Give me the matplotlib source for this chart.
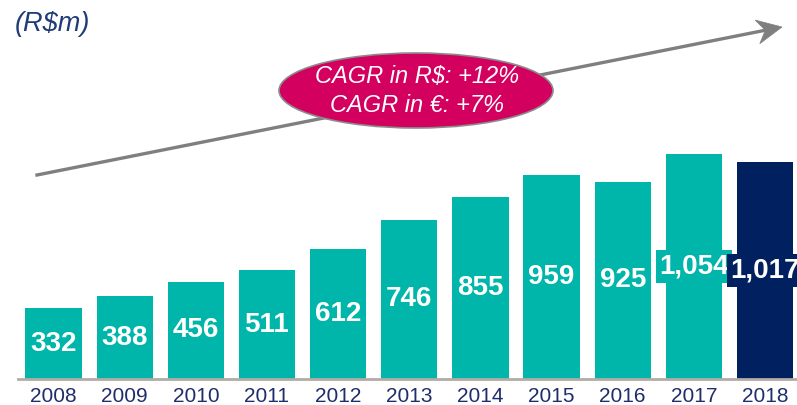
import matplotlib
matplotlib.use("Agg")
import matplotlib.pyplot as plt
from matplotlib.patches import Ellipse, Polygon
from matplotlib.lines import Line2D

plt.rcParams['font.family'] = ['Liberation Sans', 'DejaVu Sans']

years = ['2008', '2009', '2010', '2011', '2012', '2013', '2014', '2015', '2016', '2017', '2018']
values = [332, 388, 456, 511, 612, 746, 855, 959, 925, 1054, 1017]
labels = ['332', '388', '456', '511', '612', '746', '855', '959', '925', '1,054', '1,017']
title = '(R$m)'
cagr_text = 'CAGR in R$: +12%\nCAGR in €: +7%'

TEAL = '#00B5AA'
NAVY = '#002060'
colors = [TEAL] * 10 + [NAVY]

W, H = 797, 405
fig = plt.figure(figsize=(W / 100, H / 100), dpi=100)
ax = fig.add_axes([18 / W, (H - 379) / H, (W - 18) / W, 379 / H])

x = list(range(len(years)))
bars = ax.bar(x, values, width=0.79, color=colors, zorder=2)
ax.set_xlim(-0.5, 10.45)
ax.set_ylim(0, 379 / 0.2132)

for xi, v, lab, c in zip(x, values, labels, colors):
    ax.text(xi, v / 2, lab, ha='center', va='center', color='white',
            fontsize=20, fontweight='bold', zorder=3,
            bbox=dict(boxstyle='square,pad=0.12', facecolor=c, edgecolor='none'))

ax.set_xticks(x)
ax.set_xticklabels(years, fontsize=15, color='#1F2D6B')
ax.tick_params(axis='x', length=0, pad=5.5)
ax.set_yticks([])
for s in ['top', 'right', 'left']:
    ax.spines[s].set_visible(False)
ax.spines['bottom'].set_color('#B3ABA5')
ax.spines['bottom'].set_linewidth(2)
ax.patch.set_alpha(0)

def fp(px, py):
    return (px / W, 1 - py / H)

# trend arrow (decoration, figure pixel coordinates)
ARROW = '#7F7F7F'
p0, p1 = fp(37, 175), fp(765, 30.3)
fig.lines.append(Line2D([p0[0], p1[0]], [p0[1], p1[1]], transform=fig.transFigure,
                        color=ARROW, linewidth=2.4, zorder=1))
head = Polygon([fp(782, 27), fp(755.2, 20.1), fp(765.3, 30.3), fp(759.8, 43.7)],
               closed=True, transform=fig.transFigure, facecolor=ARROW,
               edgecolor=ARROW, linewidth=0.5, zorder=1)
fig.patches.append(head)

ell = Ellipse(fp(416, 90.5), 274 / W, 75 / H, transform=fig.transFigure,
              facecolor='#D4005F', edgecolor='#8C8C8C', linewidth=1.2, zorder=5)
fig.patches.append(ell)

fig.text(417 / W, 1 - 91 / H, cagr_text, ha='center', va='center', color='white',
         fontsize=17, style='italic', linespacing=1.35, zorder=6)

fig.text(15 / W, 1 - 24 / H, title, ha='left', va='center', color='#1F3C78',
         fontsize=19.5, style='italic')

fig.savefig('out.png', dpi=100)
